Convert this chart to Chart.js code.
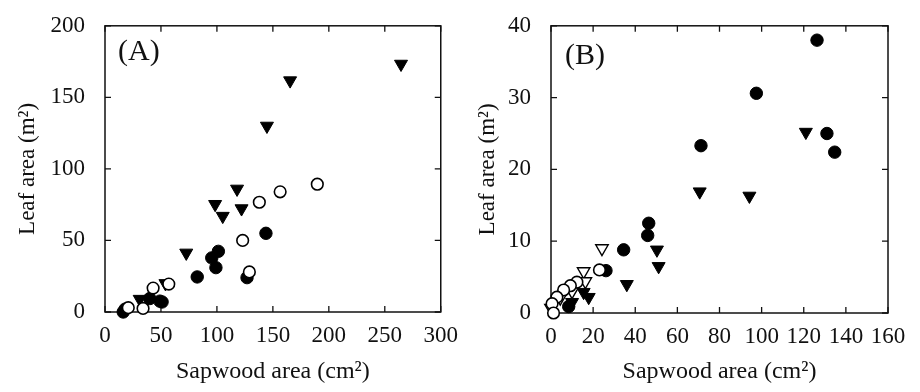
<!DOCTYPE html>
<html>
<head>
<meta charset="utf-8">
<script src="https://cdn.jsdelivr.net/npm/chart.js@4/dist/chart.umd.min.js"></script>
<style>
  html, body { margin: 0; padding: 0; background: #fff; }
  #wrap { width: 920px; height: 392px; display: flex; }
  .panel { width: 460px; height: 392px; position: relative; }
</style>
</head>
<body>
<div id="wrap">
  <div class="panel"><canvas id="cA" width="460" height="392"></canvas></div>
  <div class="panel"><canvas id="cB" width="460" height="392"></canvas></div>
</div>
<script>
// ---------- Data ----------
// Panel A
const filledTriA_x = [264.5, 165.4, 144.7, 118, 98.4, 105.2, 122, 72.6, 54, 31];
const filledTriA_y = [173.3, 161.7, 130, 86, 75.3, 67, 72.3, 41.3, 20, 9];
const filledCircA_x = [143.8, 101.3, 95.4, 99.1, 82.4, 126.9, 51, 40, 49, 16.3, 18];
const filledCircA_y = [55, 42.4, 37.8, 31, 24.5, 24, 7, 9.4, 7.6, 0, 2];
const openCircA_x = [189.7, 156.5, 137.9, 123, 129, 57, 43, 20.8, 34];
const openCircA_y = [89.3, 84, 76.7, 50, 28, 19.5, 16.7, 3, 2.5];

// Panel B
const filledCircB_x = [126.3, 97.5, 131, 134.7, 71.2, 46.4, 45.9, 34.5, 26.1, 8.4];
const filledCircB_y = [38, 30.6, 25, 22.4, 23.3, 12.5, 10.8, 8.8, 5.9, 0.9];
const filledTriB_x = [121, 70.6, 94.2, 50.3, 51.1, 36, 17.9, 15.5, 10];
const filledTriB_y = [25.2, 16.9, 16.3, 8.8, 6.5, 4, 2.2, 2.9, 1.5];
const openTriB_x = [24.2, 15.5, 16.3, 10, 4.4, 0];
const openTriB_y = [9, 5.8, 4.4, 3, 2.1, 0.7];
const openCircB_x = [23, 12.3, 9.2, 6, 2.8, 0.5, 1.2];
const openCircB_y = [6, 4.3, 3.8, 3.2, 2.2, 1.3, 0];

// Axis settings
const axisA = { xMin: 0, xMax: 300, xStep: 50, yMin: 0, yMax: 200, yStep: 50 };
const axisB = { xMin: 0, xMax: 160, xStep: 20, yMin: 0, yMax: 40, yStep: 10 };
const xTitle = 'Sapwood area (cm\u00B2)';
const yTitle = 'Leaf area (m\u00B2)';
const panelLabels = ['(A)', '(B)'];

// ---------- Helpers ----------
function pts(xs, ys) { return xs.map((x, i) => ({ x: x, y: ys[i] })); }

const FONT = "'Liberation Serif', 'DejaVu Serif', serif";

const filledCircle = { pointStyle: 'circle', pointRadius: 6.2, backgroundColor: '#000', borderColor: '#000', borderWidth: 1 };
const openCircle = { pointStyle: 'circle', pointRadius: 5.8, backgroundColor: '#fff', borderColor: '#000', borderWidth: 1.6 };
const filledTri = { pointStyle: 'triangle', pointRotation: 180, pointRadius: 7.5, backgroundColor: '#000', borderColor: '#000', borderWidth: 1 };
const openTri = { pointStyle: 'triangle', pointRotation: 180, pointRadius: 7.2, backgroundColor: '#fff', borderColor: '#000', borderWidth: 1.4 };

function ds(data, style, order) {
  return Object.assign({ data: data, order: order, clip: false, showLine: false, pointHoverRadius: style.pointRadius }, style);
}

const framePlugin = {
  id: 'frame',
  beforeDatasetsDraw(chart) {
    const { ctx, chartArea: a, scales } = chart;
    ctx.save();
    ctx.strokeStyle = '#111';
    ctx.lineWidth = 1.5;
    ctx.strokeRect(a.left, a.top, a.right - a.left, a.bottom - a.top);
    ctx.lineWidth = 1.3;
    const tl = 6;
    ctx.beginPath();
    scales.x.ticks.forEach(t => {
      const px = scales.x.getPixelForValue(t.value);
      ctx.moveTo(px, a.bottom); ctx.lineTo(px, a.bottom - tl);
      ctx.moveTo(px, a.top); ctx.lineTo(px, a.top + tl);
    });
    scales.y.ticks.forEach(t => {
      const py = scales.y.getPixelForValue(t.value);
      ctx.moveTo(a.left, py); ctx.lineTo(a.left + tl, py);
      ctx.moveTo(a.right, py); ctx.lineTo(a.right - tl, py);
    });
    ctx.stroke();
    // panel label
    const lab = chart.options.plugins.frame;
    ctx.fillStyle = '#111';
    ctx.font = '30px ' + FONT;
    ctx.textBaseline = 'middle';
    ctx.textAlign = 'left';
    ctx.fillText(lab.text, a.left + lab.dx, a.top + lab.dy);
    ctx.restore();
  }
};

function makeChart(id, axis, datasets, geom, label) {
  return new Chart(document.getElementById(id), {
    type: 'scatter',
    data: { datasets: datasets },
    options: {
      responsive: false,
      devicePixelRatio: 1,
      animation: false,
      events: [],
      layout: { padding: { top: geom.top, right: geom.right, left: 0, bottom: 0 } },
      plugins: {
        legend: { display: false },
        tooltip: { enabled: false },
        frame: { text: label, dx: geom.labDx, dy: geom.labDy }
      },
      scales: {
        x: {
          type: 'linear', min: axis.xMin, max: axis.xMax,
          grid: { display: false }, border: { display: false },
          ticks: { stepSize: axis.xStep, color: '#111', padding: 2, maxRotation: 0, font: { family: FONT, size: 23 } },
          title: { display: true, text: xTitle, color: '#111', padding: { top: 0, bottom: 6 }, font: { family: FONT, size: 24 } },
          afterFit(s) { s.height = geom.xh; }
        },
        y: {
          type: 'linear', min: axis.yMin, max: axis.yMax,
          grid: { display: false }, border: { display: false },
          ticks: { stepSize: axis.yStep, color: '#111', padding: 12, font: { family: FONT, size: 23 } },
          title: { display: true, text: yTitle, color: '#111', padding: { top: 14, bottom: 0 }, font: { family: FONT, size: 23 } },
          afterFit(s) { s.width = geom.yw; }
        }
      }
    },
    plugins: [framePlugin]
  });
}

makeChart('cA', axisA, [
  ds(pts(openCircA_x, openCircA_y), openCircle, 0),
  ds(pts(filledCircA_x, filledCircA_y), filledCircle, 2),
  ds(pts(filledTriA_x, filledTriA_y), filledTri, 3)
], { top: 21, right: 18, xh: 80, yw: 105, labDx: 13, labDy: 26 }, panelLabels[0]);

makeChart('cB', axisB, [
  ds(pts(openCircB_x, openCircB_y), openCircle, 0),
  ds(pts(openTriB_x, openTriB_y), openTri, 1),
  ds(pts(filledCircB_x, filledCircB_y), filledCircle, 2),
  ds(pts(filledTriB_x, filledTriB_y), filledTri, 3)
], { top: 22, right: 32, xh: 79, yw: 91, labDx: 14, labDy: 30 }, panelLabels[1]);
</script>
</body>
</html>
